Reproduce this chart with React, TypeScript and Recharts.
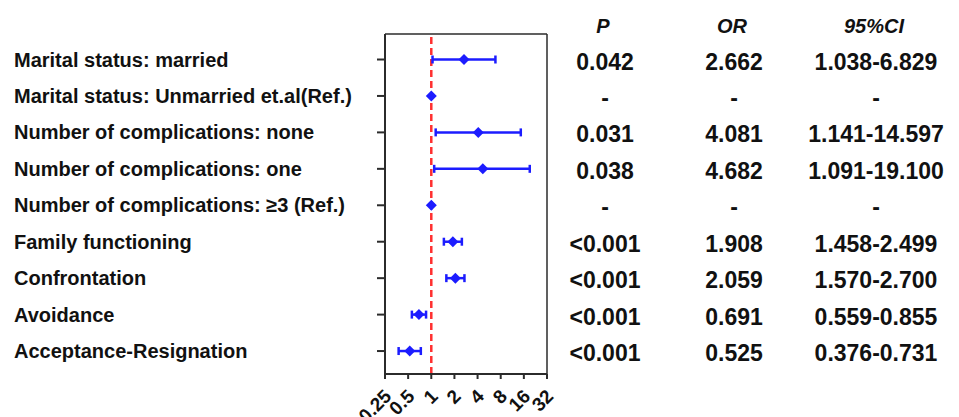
import {
    ScatterChart,
    Scatter,
    XAxis,
    YAxis,
    ErrorBar,
    ReferenceLine,
} from "recharts";

const rowLabels = [
    "Marital status: married",
    "Marital status: Unmarried et.al(Ref.)",
    "Number of complications: none",
    "Number of complications: one",
    "Number of complications: ≥3 (Ref.)",
    "Family functioning",
    "Confrontation",
    "Avoidance",
    "Acceptance-Resignation",
];

const orValues = [2.662, 1, 4.081, 4.682, 1, 1.908, 2.059, 0.691, 0.525];
const ciLow = [1.038, 1, 1.141, 1.091, 1, 1.458, 1.57, 0.559, 0.376];
const ciHigh = [6.829, 1, 14.597, 19.1, 1, 2.499, 2.7, 0.855, 0.731];

const pText = ["0.042", "-", "0.031", "0.038", "-", "<0.001", "<0.001", "<0.001", "<0.001"];
const orText = ["2.662", "-", "4.081", "4.682", "-", "1.908", "2.059", "0.691", "0.525"];
const ciText = ["1.038-6.829", "-", "1.141-14.597", "1.091-19.100", "-", "1.458-2.499", "1.570-2.700", "0.559-0.855", "0.376-0.731"];

const headers = ["P", "OR", "95%CI"];

const xTicks = [0.25, 0.5, 1, 2, 4, 8, 16, 32];
const rowTicks = [1, 2, 3, 4, 5, 6, 7, 8, 9];

const FONT = "'Liberation Sans', Arial, sans-serif";
const BLUE = "#1c1cff";
const AXIS = "#2b2b2b";
const COLS = [605, 734, 876];

const data = rowLabels.map((label, i) => ({
    row: i + 1,
    label,
    or: orValues[i],
    err: [orValues[i] - ciLow[i], ciHigh[i] - orValues[i]],
}));

// row label on the left + the P / OR / CI table on the right
const RowTick = ({y, payload}: any) => {
    const i = payload.value - 1;
    const cell = {
        y: y + 2, textAnchor: "middle" as const, dominantBaseline: "central" as const,
        fontFamily: FONT, fontWeight: "bold", fontSize: 23, fill: "#111",
    };
    return (
        <g>
            <text x={14} y={y} textAnchor="start" dominantBaseline="central"
                  fontFamily={FONT} fontWeight="bold" fontSize={20} fill="#111">
                {rowLabels[i]}
            </text>
            <text x={COLS[0]} {...cell}>{pText[i]}</text>
            <text x={COLS[1]} {...cell}>{orText[i]}</text>
            <text x={COLS[2]} {...cell}>{ciText[i]}</text>
        </g>
    );
};

const XTick = ({x, y, payload}: any) => {
    const px = x + 3;
    const py = y + 12;
    return (
        <text x={px} y={py} textAnchor="end" dominantBaseline="central"
              transform={`rotate(-45, ${px}, ${py})`}
              fontFamily={FONT} fontWeight="bold" fontSize={19} fill="#111">
            {payload.value}
        </text>
    );
};

const Diamond = ({cx, cy}: any) => (
    <polygon
        points={`${cx - 5.5},${cy} ${cx},${cy - 5.5} ${cx + 5.5},${cy} ${cx},${cy + 5.5}`}
        fill={BLUE}
    />
);

const headerStyle = {
    position: "absolute" as const,
    top: 12,
    transform: "translateX(-50%)",
    fontFamily: FONT,
    fontWeight: "bold",
    fontStyle: "italic",
    fontSize: 20,
    color: "#111",
    lineHeight: "28px",
};

export default function App() {
    return (
        <div style={{position: "absolute", left: 0, top: 0, width: 959, height: 417, background: "#fff"}}>
            {headers.map((h, i) => (
                <div key={h} style={{...headerStyle, left: COLS[i] - 2}}>{h}</div>
            ))}
            <ScatterChart width={959} height={417} margin={{top: 34, right: 412, bottom: 0, left: 0}}>
                <XAxis
                    type="number"
                    dataKey="or"
                    scale="log"
                    domain={[0.25, 32]}
                    ticks={xTicks}
                    allowDataOverflow
                    height={43}
                    tickSize={5}
                    stroke={AXIS}
                    strokeWidth={2}
                    tick={<XTick/>}
                    interval={0}
                />
                <YAxis
                    type="number"
                    dataKey="row"
                    domain={[0.3, 9.63]}
                    reversed
                    allowDataOverflow
                    ticks={rowTicks}
                    interval={0}
                    width={385}
                    tickSize={8}
                    stroke={AXIS}
                    strokeWidth={2}
                    tick={<RowTick/>}
                />
                {/* frame: top and right border */}
                <ReferenceLine y={0.3} stroke={AXIS} strokeWidth={1.5}/>
                <ReferenceLine x={32} stroke={AXIS} strokeWidth={1.5}/>
                <ReferenceLine
                    x={1}
                    stroke="#ff3030"
                    strokeWidth={2.5}
                    strokeDasharray="7 4"
                />
                <Scatter
                    data={data}
                    shape={<Diamond/>}
                    isAnimationActive={false}
                >
                    <ErrorBar dataKey="err" direction="x" width={4} stroke={BLUE} strokeWidth={2.5}/>
                </Scatter>
            </ScatterChart>
        </div>
    );
}
